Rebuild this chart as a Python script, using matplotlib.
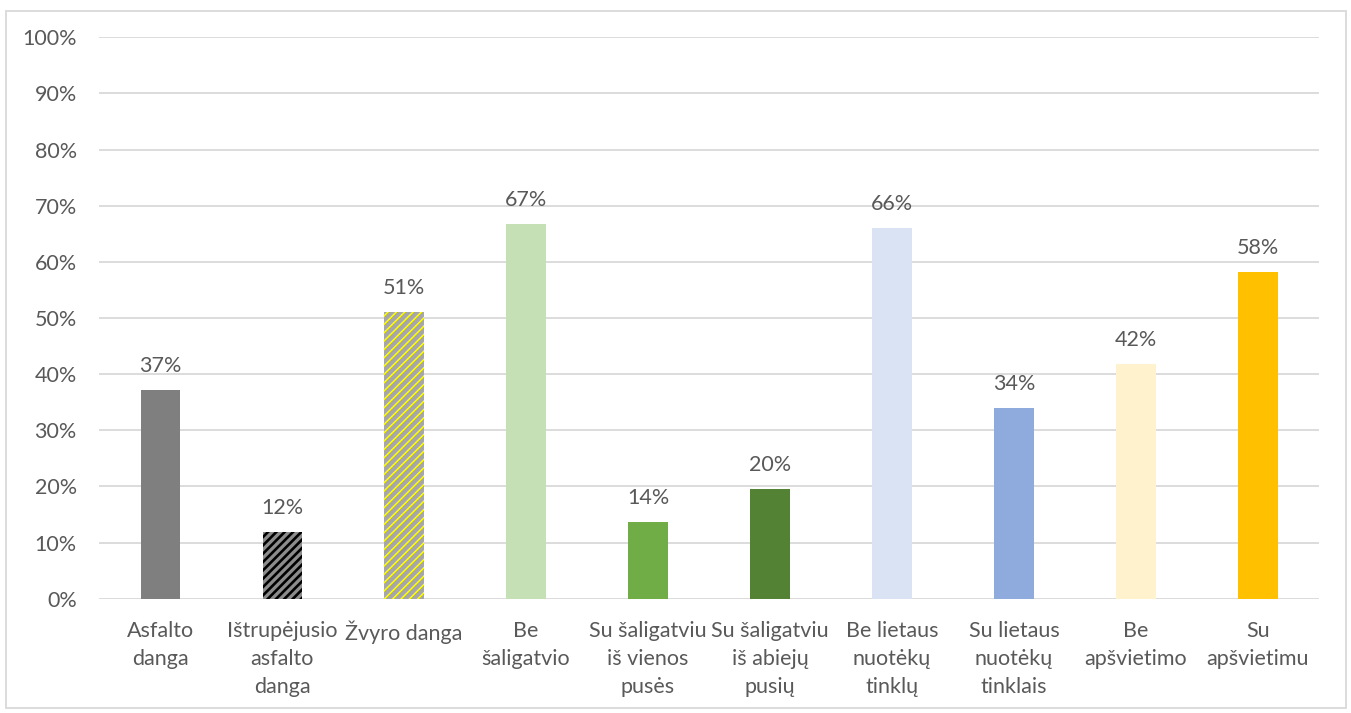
import matplotlib
matplotlib.use("Agg")
import matplotlib.pyplot as plt
from matplotlib.patches import Rectangle

# Road condition shares (%)
categories = [
    "Asfalto\ndanga",
    "Ištrupėjusio\nasfalto\ndanga",
    "Žvyro danga",
    "Be\nšaligatvio",
    "Su šaligatviu\niš vienos\npusės",
    "Su šaligatviu\niš abiejų\npusių",
    "Be lietaus\nnuotėkų\ntinklų",
    "Su lietaus\nnuotėkų\ntinklais",
    "Be\napšvietimo",
    "Su\napšvietimu",
]
values = [37.2, 11.9, 51.1, 66.7, 13.7, 19.6, 66.0, 34.0, 41.8, 58.2]
y_ticks = [0, 10, 20, 30, 40, 50, 60, 70, 80, 90, 100]

face_colors = ["#7F7F7F", "#8C8C8C", "#A6A6A6", "#C5E0B4", "#70AD47",
               "#548235", "#DAE3F3", "#8FAADC", "#FFF2CC", "#FFC000"]
hatches = [None, "////", "////", None, None, None, None, None, None, None]
hatch_colors = [None, "#000000", "#FFFF00", None, None, None, None, None, None, None]
hatch_widths = [None, 1.9, 1.1, None, None, None, None, None, None, None]

text_color = "#595959"
grid_color = "#D9D9D9"
font_size = 15.5

plt.rcParams["font.family"] = ["Lato", "DejaVu Sans"]

fig = plt.figure(figsize=(13.51, 7.13), dpi=100)
ax = fig.add_axes([0.0733, 0.1603, 0.9030, 0.7874])

x = list(range(len(categories)))
for i, (xi, v) in enumerate(zip(x, values)):
    if hatches[i]:
        with plt.rc_context({"hatch.linewidth": hatch_widths[i],
                             "hatch.color": hatch_colors[i]}):
            bar = ax.bar(xi, v, width=0.32, color=face_colors[i],
                         hatch=hatches[i], edgecolor=hatch_colors[i],
                         linewidth=0, zorder=3)
            for p in bar:
                if hasattr(p, "set_hatch_linewidth"):
                    p.set_hatch_linewidth(hatch_widths[i])
    else:
        ax.bar(xi, v, width=0.32, color=face_colors[i], linewidth=0, zorder=3)
    ax.annotate(f"{v:.0f}%", xy=(xi, v), xytext=(0, 13),
                textcoords="offset points", ha="center", va="baseline",
                fontsize=font_size, color=text_color)

ax.set_xlim(-0.5, len(categories) - 0.5)
ax.set_ylim(0, 100)
ax.set_yticks(y_ticks)
ax.set_yticklabels([f"{t}%" for t in y_ticks])
ax.set_xticks(x)
ax.set_xticklabels(categories, linespacing=1.5)

ax.tick_params(axis="y", length=0, pad=16, labelsize=font_size, labelcolor=text_color)
ax.tick_params(axis="x", length=0, pad=16, labelsize=font_size, labelcolor=text_color)

ax.yaxis.grid(True, color=grid_color, linewidth=1.3, zorder=0)
ax.set_axisbelow(True)
for s in ax.spines.values():
    s.set_visible(False)

# outer chart frame
fig.patches.append(Rectangle((6 / 1351, 5 / 713), 1340 / 1351, 697 / 713,
                             transform=fig.transFigure, fill=False,
                             edgecolor=grid_color, linewidth=1.3))

fig.savefig("out.png", dpi=100)
